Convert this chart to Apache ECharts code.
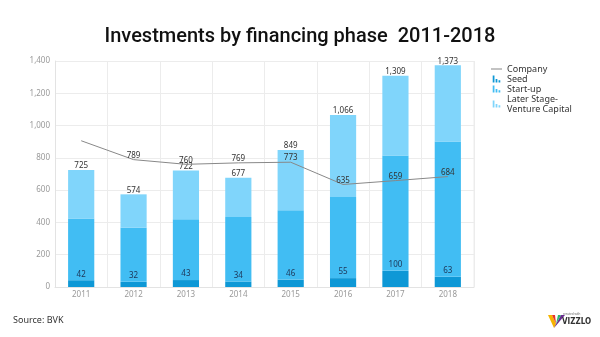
<!DOCTYPE html>
<html><head><meta charset="utf-8">
<script src="https://cdn.jsdelivr.net/npm/echarts@6/dist/echarts.min.js"></script>
<style>html,body{margin:0;padding:0;background:#fff}#c{width:600px;height:337px}</style>
</head><body><div id="c"></div>
<script>
const years = ['2011','2012','2013','2014','2015','2016','2017','2018'];
const seed = [42,32,43,34,46,55,100,63];
const startUp = [383,335,377,399,430,503,714,839];
const laterStage = [300,207,302,244,373,508,495,471];
const totals = [725,574,722,677,849,1066,1309,1373];
const company = [906,789,760,769,773,635,659,684];
const yTicks = [0,200,400,600,800,1000,1200,1400];

const barIcon = 'path://M0,4H3V16H0ZM5,10H8V16H5ZM10,12H13V16H10Z';
const chart = echarts.init(document.getElementById('c'));
chart.setOption({
  animation:false,
  title:{text:'Investments by financing phase  2011-2018',left:'center',top:22,
    textStyle:{fontFamily:'Roboto',fontWeight:500,fontSize:20,color:'#111'}},
  legend:{orient:'vertical',left:491,top:64,padding:0,itemGap:0,itemWidth:11,itemHeight:7,
    textStyle:{fontFamily:'Noto Sans',fontSize:9,color:'#333',lineHeight:10},
    data:[{name:'Company',icon:'path://M0,5H14V6H0Z',itemStyle:{color:'#666'}},
      {name:'Seed',icon:barIcon},{name:'Start-up',icon:barIcon},{name:'Later Stage-\nVenture Capital',icon:barIcon}]},
  grid:{left:55,right:126,top:61,bottom:50},
  xAxis:{type:'category',data:years,axisTick:{show:false},
    axisLine:{lineStyle:{color:'#e3e3e3'}},
    axisLabel:{fontFamily:'Noto Sans',fontSize:8,color:'#999',margin:4},
    splitLine:{show:true,lineStyle:{color:'#ececec'}}},
  yAxis:{type:'value',min:0,max:1400,interval:200,
    axisLine:{show:true,lineStyle:{color:'#e3e3e3'}},
    axisLabel:{fontFamily:'Noto Sans',fontSize:8,color:'#999',margin:5,
      formatter:v=>v.toLocaleString('en-US')},
    splitLine:{lineStyle:{color:'#ececec'}}},
  graphic:[
    {type:'line',shape:{x1:474,y1:61,x2:474,y2:287},style:{stroke:'#ececec',lineWidth:1}},
    {type:'text',left:13,top:316,style:{text:'Source: BVK',font:'9px "Noto Sans"',fill:'#333'}},
    {type:'polygon',shape:{points:[[548,315],[552,315],[556,324],[554,328]]},style:{fill:'#f5b400'}},
    {type:'polygon',shape:{points:[[556,324],[552,315],[555,315]]},style:{fill:'#e6332a'}},
    {type:'polygon',shape:{points:[[554,328],[556,324],[561,315],[565,315]]},style:{fill:'#6a2c91'}},
    {type:'polygon',shape:{points:[[556,324],[561,315],[558,315]]},style:{fill:'#2bb673'}},
    {type:'text',left:562,top:318,style:{text:'VIZZLO',font:'bold 8px "DejaVu Sans Condensed"',fill:'#333'}},
    {type:'text',left:563,top:313,style:{text:'created with',font:'3px "Noto Sans"',fill:'#666'}}
  ],
  series:[
    {name:'Seed',type:'bar',stack:'a',barWidth:'50%',data:seed,itemStyle:{color:'#0e98d6'},
      label:{show:true,position:'top',distance:2,fontFamily:'Noto Sans',fontSize:8,color:'#1d3557'}},
    {name:'Start-up',type:'bar',stack:'a',data:startUp,itemStyle:{color:'#41bdf3'}},
    {name:'Later Stage-\nVenture Capital',type:'bar',stack:'a',data:laterStage,itemStyle:{color:'#80d5fb'},
      label:{show:true,position:'top',distance:0,fontFamily:'Noto Sans',fontSize:8,color:'#333',
        formatter:p=>totals[p.dataIndex].toLocaleString('en-US')}},
    {name:'Company',type:'line',data:company.map((v,i)=>i===0?{value:v,label:{show:false}}:v),
      symbol:'circle',symbolSize:0.01,showSymbol:true,lineStyle:{color:'#888',width:1},itemStyle:{color:'#666'},z:5,
      labelLayout:{hideOverlap:false},
      label:{show:true,position:'top',distance:0,fontFamily:'Noto Sans',fontSize:8,color:'#333'}}
  ]
});
</script></body></html>
